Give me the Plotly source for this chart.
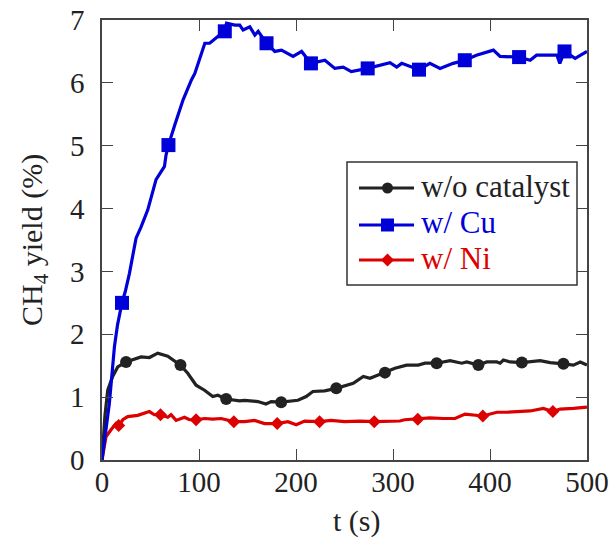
import plotly.graph_objects as go

# CH4 yield vs time, three runs
t_none = [0, 3, 5.9, 11, 16.2, 24.8, 40.2, 48.9, 57.5, 67.8, 80.9, 88.4, 97, 105.7, 114.2,
          119.4, 128, 141.8, 147, 160.7, 169, 174.4, 184.7, 202, 210.5, 217.4, 229.5, 241.5,
          259, 269.4, 276.3, 291.7, 302, 314, 326, 333, 345, 358.8, 370.9, 376, 388, 396.7,
          407, 410.4, 413.8, 420.7, 432.8, 451.7, 462, 475.7, 486, 493, 500]
y_none = [0, 0.7, 1.11, 1.33, 1.48, 1.56, 1.64, 1.63, 1.70, 1.65, 1.51, 1.38, 1.19, 1.11, 1.01,
          1.03, 0.97, 0.94, 0.95, 0.93, 0.89, 0.93, 0.92, 0.95, 1.01, 1.09, 1.10, 1.14,
          1.22, 1.33, 1.30, 1.39, 1.46, 1.51, 1.51, 1.54, 1.54, 1.58, 1.54, 1.56, 1.51, 1.56,
          1.56, 1.54, 1.59, 1.56, 1.55, 1.58, 1.55, 1.53, 1.51, 1.56, 1.51]
t_none_mk = [24.8, 80.9, 128, 184.7, 241.5, 291.7, 345, 388, 432.8, 475.7]
y_none_mk = [1.56, 1.51, 0.97, 0.92, 1.14, 1.39, 1.54, 1.51, 1.55, 1.53]

t_cu = [0, 4, 7.6, 12.8, 16, 20.6, 24, 28.3, 35.1, 40.3, 47.2, 55.7, 64.4, 66, 68.5, 75, 83.6,
        92.3, 95.7, 106, 111, 119.7, 126.6, 128.4, 137, 142, 145.5, 152.4, 157.6, 161, 169.6,
        178.2, 185, 197, 205.8, 215.4, 229.8, 240, 248.7, 257, 273.9, 296.9, 303.8, 309,
        326.8, 338, 348.5, 362, 374, 386, 403.5, 410.4, 430, 441.4, 448, 469, 472, 476.8,
        487.8, 500]
y_cu = [0, 0.45, 0.9, 1.8, 2.15, 2.5, 2.68, 2.97, 3.53, 3.71, 3.98, 4.46, 4.67, 4.85, 5.01,
        5.33, 5.73, 6.05, 6.15, 6.63, 6.63, 6.74, 6.82, 6.95, 6.92, 6.92, 6.84, 6.89, 6.76,
        6.82, 6.63, 6.50, 6.52, 6.42, 6.50, 6.31, 6.36, 6.23, 6.25, 6.18, 6.23, 6.32, 6.25,
        6.31, 6.21, 6.31, 6.23, 6.31, 6.36, 6.44, 6.52, 6.42, 6.41, 6.36, 6.44, 6.44, 6.31,
        6.50, 6.39, 6.50]
t_cu_mk = [20.6, 68.5, 126.6, 169.6, 215.4, 273.9, 326.8, 374, 430, 476.8]
y_cu_mk = [2.50, 5.01, 6.82, 6.63, 6.31, 6.23, 6.21, 6.36, 6.41, 6.50]

t_ni = [0, 4.1, 9.3, 14.4, 17.2, 21.4, 26.5, 36.8, 48.9, 54, 60.3, 67.8, 71.2, 76.4, 85,
        90.2, 97, 105.7, 114.2, 122.8, 135.9, 147, 157.3, 167.6, 180.6, 191.6, 200.2, 208.9,
        224.3, 236.3, 250, 266, 280.7, 307, 312, 325.5, 338, 352, 364, 374.3, 381, 392.6,
        407, 417.3, 441.4, 455, 464.8, 472.3, 486, 500]
y_ni = [0, 0.37, 0.48, 0.58, 0.54, 0.64, 0.69, 0.71, 0.77, 0.72, 0.72, 0.68, 0.72, 0.63, 0.68,
        0.64, 0.64, 0.66, 0.65, 0.66, 0.61, 0.61, 0.63, 0.58, 0.58, 0.61, 0.56, 0.62,
        0.61, 0.63, 0.61, 0.62, 0.61, 0.62, 0.64, 0.65, 0.67, 0.66, 0.66, 0.73, 0.72, 0.70,
        0.76, 0.76, 0.78, 0.82, 0.77, 0.81, 0.82, 0.84]
t_ni_mk = [17.2, 60.3, 97, 135.9, 180.6, 224.3, 280.7, 325.5, 392.6, 464.8]
y_ni_mk = [0.55, 0.72, 0.64, 0.61, 0.58, 0.61, 0.61, 0.65, 0.70, 0.77]

x_ticks = [0, 100, 200, 300, 400, 500]
y_ticks = [0, 1, 2, 3, 4, 5, 6, 7]

BLACK = "#222222"
BLUE = "#0000d8"
RED = "#dd0000"
FONT = "Liberation Serif"

W, H = 615, 537
ML, MR, MT, MB = 102, 28, 20, 77
PW, PH = W - ML - MR, H - MT - MB


def px_x(px):
    """page pixel column -> paper x"""
    return (px - ML) / PW


def px_y(py):
    """page pixel row -> paper y"""
    return (H - MB - py) / PH


series = [
    ("w/o catalyst", BLACK, "circle", 12, t_none, y_none, t_none_mk, y_none_mk),
    ("w/ Cu", BLUE, "square", 14, t_cu, y_cu, t_cu_mk, y_cu_mk),
    ("w/ Ni", RED, "diamond", 10, t_ni, y_ni, t_ni_mk, y_ni_mk),
]

fig = go.Figure()

# curves and their markers (Ni, none, then Cu on top)
for idx in (2, 0, 1):
    name, col, sym, msize, tx, ty, mx, my = series[idx]
    fig.add_trace(go.Scatter(x=tx, y=ty, mode="lines", line=dict(color=col, width=3.2),
                             name=name, showlegend=False, hoverinfo="skip"))
    fig.add_trace(go.Scatter(x=mx, y=my, mode="markers", name=name,
                             marker=dict(symbol=sym, size=msize, color=col, line=dict(width=0)),
                             showlegend=False))

# boxed key in the right half of the plot
shapes = [dict(type="rect", xref="paper", yref="paper", layer="above",
               x0=px_x(347), x1=px_x(577), y0=px_y(285), y1=px_y(162),
               line=dict(color="#333333", width=1.5), fillcolor="white")]
annotations = []
row_y = [188, 225, 260]
line_x0, line_x1, glyph_x, text_x = 359, 414, 387.5, 419
for (name, col, sym, *_), ry in zip(series, row_y):
    shapes.append(dict(type="line", xref="paper", yref="paper", layer="above",
                       x0=px_x(line_x0), x1=px_x(line_x1), y0=px_y(ry), y1=px_y(ry),
                       line=dict(color=col, width=3.2)))
    if sym == "circle":
        r = 5.5
        shapes.append(dict(type="circle", xref="paper", yref="paper", layer="above",
                           x0=px_x(glyph_x - r), x1=px_x(glyph_x + r),
                           y0=px_y(ry + r), y1=px_y(ry - r),
                           line=dict(width=0), fillcolor=col))
    elif sym == "square":
        r = 6.5
        shapes.append(dict(type="rect", xref="paper", yref="paper", layer="above",
                           x0=px_x(glyph_x - r), x1=px_x(glyph_x + r),
                           y0=px_y(ry + r), y1=px_y(ry - r),
                           line=dict(width=0), fillcolor=col))
    else:
        r = 6.5
        path = (f"M {px_x(glyph_x - r)},{px_y(ry)} L {px_x(glyph_x)},{px_y(ry - r)} "
                f"L {px_x(glyph_x + r)},{px_y(ry)} L {px_x(glyph_x)},{px_y(ry + r)} Z")
        shapes.append(dict(type="path", xref="paper", yref="paper", layer="above",
                           path=path, line=dict(width=0), fillcolor=col))
    annotations.append(dict(text=name, xref="paper", yref="paper", x=px_x(text_x),
                            y=px_y(ry - 2), xanchor="left", yanchor="middle",
                            showarrow=False, font=dict(family=FONT, size=31, color=col)))

# axis titles
annotations.append(dict(text="t (s)", xref="paper", yref="paper", x=px_x(356.7),
                        y=px_y(521), xanchor="center", yanchor="middle", showarrow=False,
                        font=dict(family=FONT, size=30, color=BLACK)))
annotations.append(dict(text="CH<sub>4</sub> yield (%)", xref="paper", yref="paper",
                        x=px_x(34), y=px_y(240), xanchor="center", yanchor="middle",
                        textangle=-90, showarrow=False,
                        font=dict(family=FONT, size=30, color=BLACK)))

axis_common = dict(
    showline=True, linecolor="#444444", linewidth=1.5, mirror="ticks",
    ticks="inside", ticklen=11, tickwidth=1.3, tickcolor="#444444",
    showgrid=False, zeroline=False, automargin=False,
    tickfont=dict(family=FONT, size=29, color=BLACK),
)

fig.update_xaxes(range=[0, 500], tickvals=x_ticks, ticklabelstandoff=-5, **axis_common)
fig.update_yaxes(range=[0, 7], tickvals=y_ticks, ticklabelstandoff=10, **axis_common)

fig.update_layout(
    width=W, height=H, autosize=False,
    margin=dict(l=ML, r=MR, t=MT, b=MB),
    paper_bgcolor="white", plot_bgcolor="white",
    font=dict(family=FONT, size=29, color=BLACK),
    showlegend=False,
    shapes=shapes,
    annotations=annotations,
)

fig.write_html("out.html")
